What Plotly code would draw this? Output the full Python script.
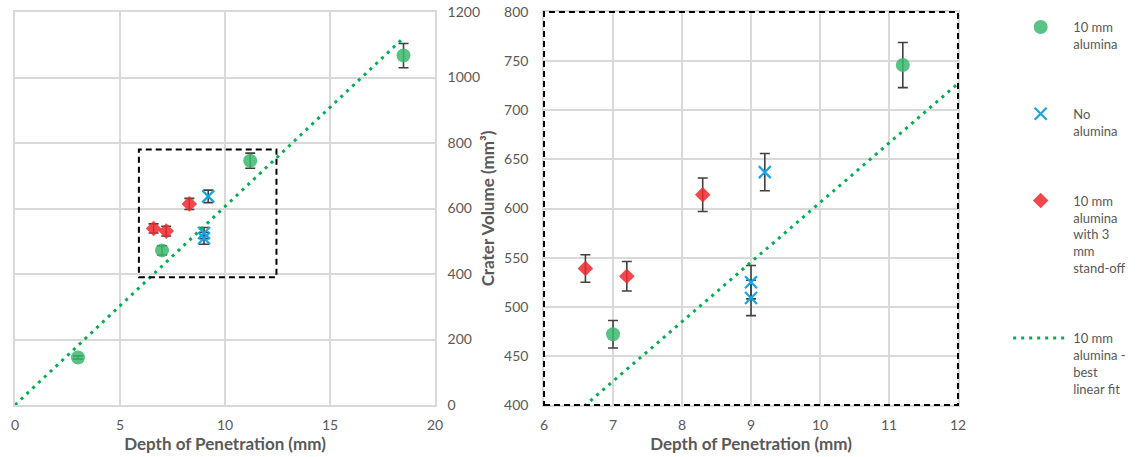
import plotly.graph_objects as go

# ---- data ----
alu_x = [3.0, 7.0, 11.2, 18.5]
alu_y = [145, 472, 746, 1067]
alu_err = [5, 14, 23, 37]

noalu_x = [9.0, 9.0, 9.2]
noalu_y = [525, 509, 637]
noalu_err = [17, 18, 19]

so_x = [6.6, 7.2, 8.3]
so_y = [539, 531, 614]
so_err = [14, 15, 17]

fit_x = [0.0, 18.4]
fit_y = [0.0, 1115.0]

left_xticks = [0, 5, 10, 15, 20]
left_yticks = [0, 200, 400, 600, 800, 1000, 1200]
right_xticks = [6, 7, 8, 9, 10, 11, 12]
right_yticks = [400, 450, 500, 550, 600, 650, 700, 750, 800]

names = ["10 mm<br>alumina", "No<br>alumina",
         "10 mm<br>alumina<br>with 3<br>mm<br>stand-off",
         "10 mm<br>alumina -<br>best<br>linear fit"]

GREEN = "rgb(60,185,110)"
BLUE = "rgb(20,165,230)"
RED = "rgb(240,40,45)"
FIT = "rgb(0,176,80)"
ERR = "#404040"
GRID = "#d9d9d9"
TXT = "#595959"
FONT = "Lato, 'Open Sans', sans-serif"

fig = go.Figure()

def err(e):
    return dict(type="data", array=e, visible=True, color=ERR, thickness=1.6, width=5)

for axes, show in [(("x", "y"), False), (("x2", "y2"), True)]:
    xa, ya = axes
    fig.add_trace(go.Scatter(x=alu_x, y=alu_y, mode="markers", name=names[0],
                             legendgroup="a", showlegend=show, xaxis=xa, yaxis=ya,
                             marker=dict(symbol="circle", size=14, color=GREEN, opacity=0.85),
                             error_y=err(alu_err)))
    fig.add_trace(go.Scatter(x=noalu_x, y=noalu_y, mode="markers", name=names[1],
                             legendgroup="b", showlegend=show, xaxis=xa, yaxis=ya,
                             marker=dict(symbol="x-thin-open", size=12, color=BLUE,
                                         line=dict(color=BLUE, width=2.2)),
                             error_y=err(noalu_err)))
    fig.add_trace(go.Scatter(x=so_x, y=so_y, mode="markers", name=names[2],
                             legendgroup="c", showlegend=show, xaxis=xa, yaxis=ya,
                             marker=dict(symbol="diamond", size=12, color=RED, opacity=0.85),
                             error_y=err(so_err)))
    fig.add_trace(go.Scatter(x=fit_x, y=fit_y, mode="lines", name=names[3],
                             legendgroup="d", showlegend=show, xaxis=xa, yaxis=ya,
                             line=dict(color=FIT, width=3, dash="3px,5px")))

tickfont = dict(family=FONT, size=14, color=TXT)
titlefont = dict(family=FONT, size=17, color=TXT, weight="bold")

common = dict(showgrid=True, gridcolor=GRID, gridwidth=1.5, zeroline=False,
              showline=True, linecolor=GRID, linewidth=1.5, mirror=True,
              tickfont=tickfont, ticks="", automargin=False,
              ticklabeloverflow="allow")

fig.update_layout(
    width=1137, height=457,
    margin=dict(l=15, r=179, t=12, b=52, autoexpand=False),
    paper_bgcolor="white", plot_bgcolor="white",
    font=dict(family=FONT, color=TXT),
    xaxis=dict(domain=[0, 0.4454], range=[0, 20], tickvals=left_xticks,
               ticklabelstandoff=6,
               title=dict(text="Depth of Penetration (mm)", font=titlefont, standoff=5),
               anchor="y", **common),
    yaxis=dict(domain=[0, 1], range=[0, 1200], tickvals=left_yticks, side="right",
               anchor="x", ticklabelstandoff=8, **common),
    xaxis2=dict(domain=[0.561, 1], range=[6, 12], tickvals=right_xticks,
                ticklabelstandoff=6,
                title=dict(text="Depth of Penetration (mm)", font=titlefont, standoff=5),
                anchor="y2", **common),
    yaxis2=dict(domain=[0, 1], range=[400, 800], tickvals=right_yticks,
                anchor="x2", ticklabelstandoff=11,
                title=dict(text="Crater Volume (mm³)", font=titlefont, standoff=5),
                **common),
    legend=dict(x=1.0532, y=1.0, yref="paper", xanchor="left", yanchor="top",
                font=dict(family=FONT, size=13, color=TXT),
                tracegroupgap=50, valign="top", itemwidth=55, maxheight=445,
                bgcolor="rgba(0,0,0,0)"),
    showlegend=True,
)

# zoom-region box on the left chart
fig.add_shape(type="rect", xref="x", yref="y", x0=5.9, x1=12.45, y0=390, y1=780,
              line=dict(color="black", width=2, dash="6px,4px"), layer="above")
# dashed frame around the right chart
fig.add_shape(type="rect", xref="x2 domain", yref="y2 domain", x0=0, x1=1, y0=0, y1=1,
              line=dict(color="black", width=2, dash="6px,4px"), layer="above")

fig.write_html("out.html", config={"displayModeBar": False},
               post_script="document.body.style.margin='0px';")
